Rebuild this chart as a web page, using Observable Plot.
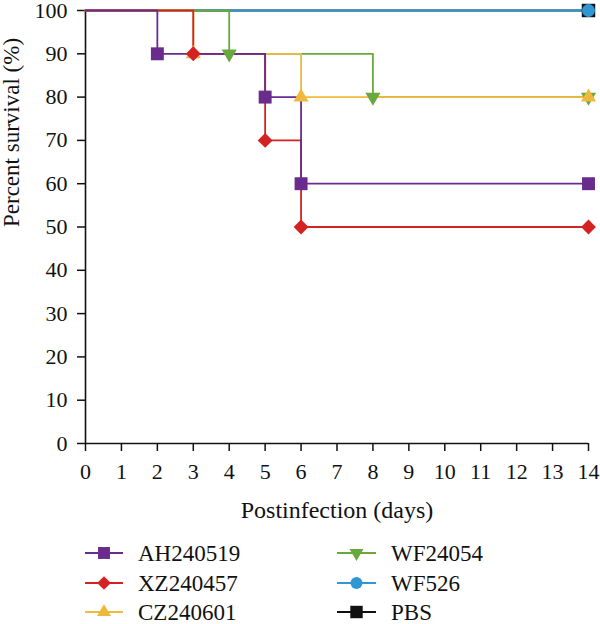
<!DOCTYPE html>
<html><head><meta charset="utf-8">
<script src="https://cdn.jsdelivr.net/npm/d3@7"></script>
<script src="https://cdn.jsdelivr.net/npm/@observablehq/plot@0.6"></script>
<style>
body{margin:0;background:#fff;}
svg{display:block;}
</style>
</head><body><div id="chart"></div>
<script>
const seriesNames   = ["AH240519","XZ240457","CZ240601","WF24054","WF526","PBS"];
const seriesColors  = ["#6a2c8c","#d42222","#efb93e","#69a83c","#2f97d2","#111111"];
const seriesSymbols = ["square","diamond2","triangle","triangle","circle","square"];
const seriesRotate  = [0,0,0,180,0,0];
const seriesR       = [7.3,6.7,5.6,5.6,6.5,7.6];

const ahDays   = [0,2,5,6,14],  ahSurv   = [100,90,80,60,60];
const xzDays   = [0,3,5,6,14],  xzSurv   = [100,90,70,50,50];
const czDays   = [0,3,6,14],    czSurv   = [100,90,80,80];
const wf4Days  = [0,4,8,14],    wf4Surv  = [100,90,80,80];
const wf526Days= [0,14],        wf526Surv= [100,100];
const pbsDays  = [0,14],        pbsSurv  = [100,100];

const xTicks = [0,1,2,3,4,5,6,7,8,9,10,11,12,13,14];
const yTicks = [0,10,20,30,40,50,60,70,80,90,100];
const xTitle = "Postinfection (days)";
const yTitle = "Percent survival (%)";

const daysList = [ahDays, xzDays, czDays, wf4Days, wf526Days, pbsDays];
const survList = [ahSurv, xzSurv, czSurv, wf4Surv, wf526Surv, pbsSurv];

const order = [5,4,3,2,1,0];
const rows = [];
for (const i of order) {
  daysList[i].forEach((d, k) => rows.push({series: seriesNames[i], idx: i, day: d, surv: survList[i][k], k}));
}

const FONT = "\"Liberation Serif\", serif";

const lineMark = Plot.line(rows, {
  x: "day", y: "surv", z: "series", stroke: "series",
  curve: "step-after", strokeWidth: 1.8
});

const dotMarks = order.map(i => Plot.dot(rows.filter(r => r.idx === i && r.k > 0), {
  x: "day", y: "surv", fill: seriesColors[i], stroke: "none",
  symbol: seriesSymbols[i], r: seriesR[i], rotate: seriesRotate[i]
}));

const chart = Plot.plot({
  width: 600, height: 530,
  marginLeft: 85, marginRight: 12, marginTop: 10, marginBottom: 87,
  style: {fontSize: "22px", color: "#111", background: "#fff", overflow: "visible"},
  x: {domain: [0, 14], ticks: xTicks},
  y: {domain: [0, 100], ticks: yTicks},
  color: {domain: seriesNames, range: seriesColors},
  marks: [
    Plot.axisX({ticks: xTicks, tickSize: 8, tickPadding: 12, label: null, stroke: "#111", strokeWidth: 1.5, fill: "#111"}),
    Plot.axisY({ticks: yTicks, tickSize: 8, tickPadding: 10, label: null, stroke: "#111", strokeWidth: 1.5, fill: "#111"}),
    Plot.ruleY([0], {stroke: "#111", strokeWidth: 1.6}),
    Plot.ruleX([0], {stroke: "#111", strokeWidth: 1.6}),
    lineMark,
    ...dotMarks,
    Plot.text([xTitle], {frameAnchor: "bottom", dy: 74, lineAnchor: "bottom", fontSize: 24, fill: "#111", text: d => d}),
    Plot.text([yTitle], {frameAnchor: "left", dx: -74, rotate: -90, lineAnchor: "middle", fontSize: 23, fill: "#111", text: d => d})
  ]
});
d3.select(chart).style("font-family", FONT);
d3.select(chart).selectAll("text").style("font-family", FONT);
document.getElementById("chart").appendChild(chart);

const legendCols = [[0,1,2],[3,4,5]];
const colLineX = [[85,123],[337,376]];
const colTextX = [138, 391];
const rowY = [23, 53, 82];
const leg = d3.select("#chart").append("svg")
  .attr("width", 600).attr("height", 94);
legendCols.forEach((col, c) => {
  col.forEach((i, r) => {
    const g = leg.append("g");
    const y = rowY[r];
    g.append("line").attr("x1", colLineX[c][0]).attr("x2", colLineX[c][1])
      .attr("y1", y).attr("y2", y).attr("stroke", seriesColors[i]).attr("stroke-width", 1.8);
    const sym = {square: d3.symbolSquare, diamond2: d3.symbolDiamond2, triangle: d3.symbolTriangle, circle: d3.symbolCircle}[seriesSymbols[i]];
    const cx = (colLineX[c][0] + colLineX[c][1]) / 2;
    g.append("path").attr("d", d3.symbol(sym, Math.PI * seriesR[i] * seriesR[i] * 0.85)())
      .attr("transform", `translate(${cx},${y}) rotate(${seriesRotate[i]})`)
      .attr("fill", seriesColors[i]);
    g.append("text").attr("x", colTextX[c]).attr("y", y).attr("dy", "0.35em")
      .style("font-family", FONT).style("font-size", "23px")
      .attr("fill", "#111").text(seriesNames[i]);
  });
});
</script>
</body></html>
